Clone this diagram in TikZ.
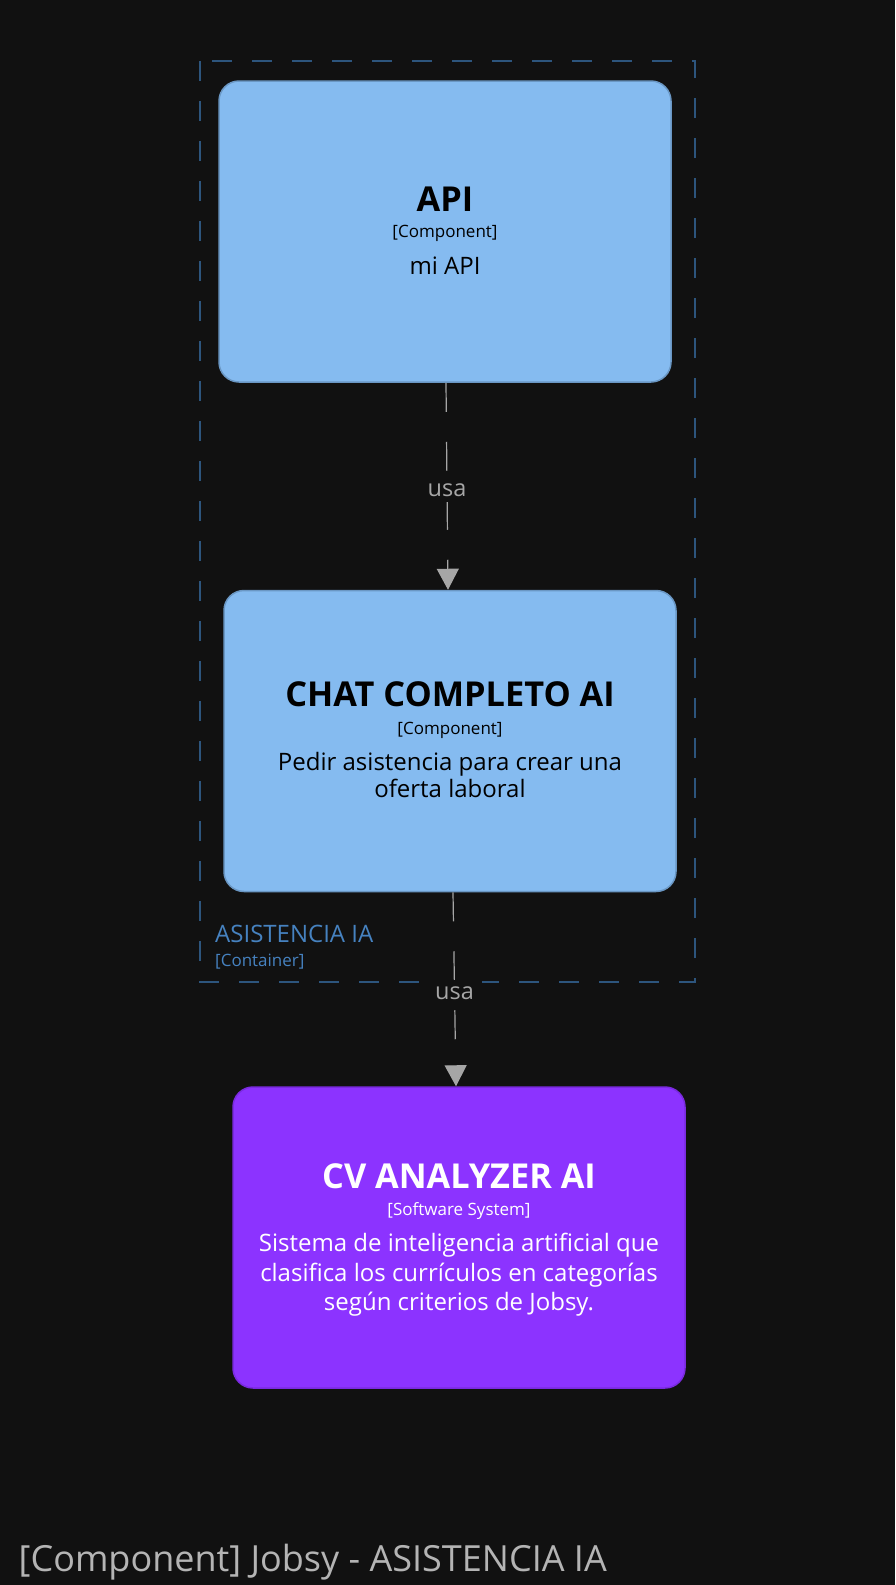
\documentclass[tikz,border=0pt]{standalone}
\usepackage{fontspec}
\setmainfont{Open Sans}
\usetikzlibrary{arrows.meta,calc}
\definecolor{bg}{HTML}{111111}
\definecolor{compfill}{HTML}{85BBF0}
\definecolor{compline}{HTML}{6A97C4}
\definecolor{sysfill}{HTML}{8C33FF}
\definecolor{sysline}{HTML}{7A2AE0}
\definecolor{contline}{HTML}{2D557D}
\definecolor{conttext}{HTML}{4682C0}
\definecolor{relcol}{HTML}{A6A6A6}
\definecolor{titlecol}{HTML}{B4B4B4}
\tikzset{
  compbox/.style={draw=compline, line width=1.5pt, fill=compfill, rounded corners=20pt, minimum width=452pt, minimum height=301pt, inner sep=0pt},
  sysbox/.style={draw=sysline, line width=1.5pt, fill=sysfill, rounded corners=20pt, minimum width=452pt, minimum height=301pt, inner sep=0pt},
  etitle/.style={anchor=base, font=\fontsize{34.3}{40}\selectfont\bfseries, inner sep=0pt},
  emeta/.style={anchor=base, font=\fontsize{17}{20}\selectfont, inner sep=0pt},
  edesc/.style={anchor=base, font=\fontsize{24}{29}\selectfont, inner sep=0pt},
  rel/.style={draw=relcol, line width=1.2pt, dash pattern=on 29pt off 30pt, -{Triangle[width=22pt,length=21pt,fill=relcol]}},
  rellabel/.style={fill=bg, text=relcol, font=\fontsize{23.5}{28}\selectfont, inner xsep=8pt, inner ysep=6pt, yshift=-3.5pt},
}
\begin{document}
\begin{tikzpicture}[x=1pt,y=-1pt]
\fill[bg] (0,0) rectangle (895,1585);
\useasboundingbox (0,0) rectangle (895,1585);
% container boundary
\draw[contline, line width=1.5pt, dash pattern=on 20pt off 20pt] (200,61) rectangle (695,982);
\node[anchor=base west, text=conttext, font=\fontsize{24}{29}\selectfont, inner sep=0pt] (conttitle) at (215,942.7) {ASISTENCIA IA};
\node[anchor=base west, text=conttext, font=\fontsize{17}{20}\selectfont, inner sep=0pt] (contmeta) at (215,966) {[Container]};
% boxes
\node[compbox] (api) at (445,231.5) {};
\node[compbox] (chat) at (450,741) {};
\node[sysbox] (cv) at (459,1237.5) {};
% API text
\node[etitle, text=black] (apit) at (445,211.7) {API};
\node[emeta, text=black] (apim) at (445,237.5) {[Component]};
\node[edesc, text=black] (apid) at (445,274) {mi API};
% CHAT text
\node[etitle, text=black] (chatt) at (450,706) {CHAT COMPLETO AI};
\node[emeta, text=black] (chatm) at (450,734.5) {[Component]};
\node[edesc, text=black] (chatd1) at (450,770) {Pedir asistencia para crear una};
\node[edesc, text=black] (chatd2) at (450,797.5) {oferta laboral};
% CV text
\node[etitle, text=white] (cvt) at (459,1188) {CV ANALYZER AI};
\node[emeta, text=white] (cvm) at (459,1215.5) {[Software System]};
\node[edesc, text=white] (cvd1) at (459,1251.7) {Sistema de inteligencia artificial que};
\node[edesc, text=white] (cvd2) at (459,1281) {clasifica los currículos en categorías};
\node[edesc, text=white] (cvd3) at (459,1310) {según criterios de Jobsy.};
% relationships
\draw[rel] ($(api.south)+(1,0)$) -- node[rellabel] (l1) {usa} ($(chat.north)+(-2,0)$);
\draw[rel] ($(chat.south)+(3,0)$) -- node[rellabel] (l2) {usa} ($(cv.north)+(-3,0)$);
% diagram title
\node[anchor=base west, text=titlecol, font=\fontsize{36}{42}\selectfont, inner sep=0pt] (title) at (18.5,1571.5) {[Component] Jobsy - ASISTENCIA IA};
\end{tikzpicture}
\end{document}
